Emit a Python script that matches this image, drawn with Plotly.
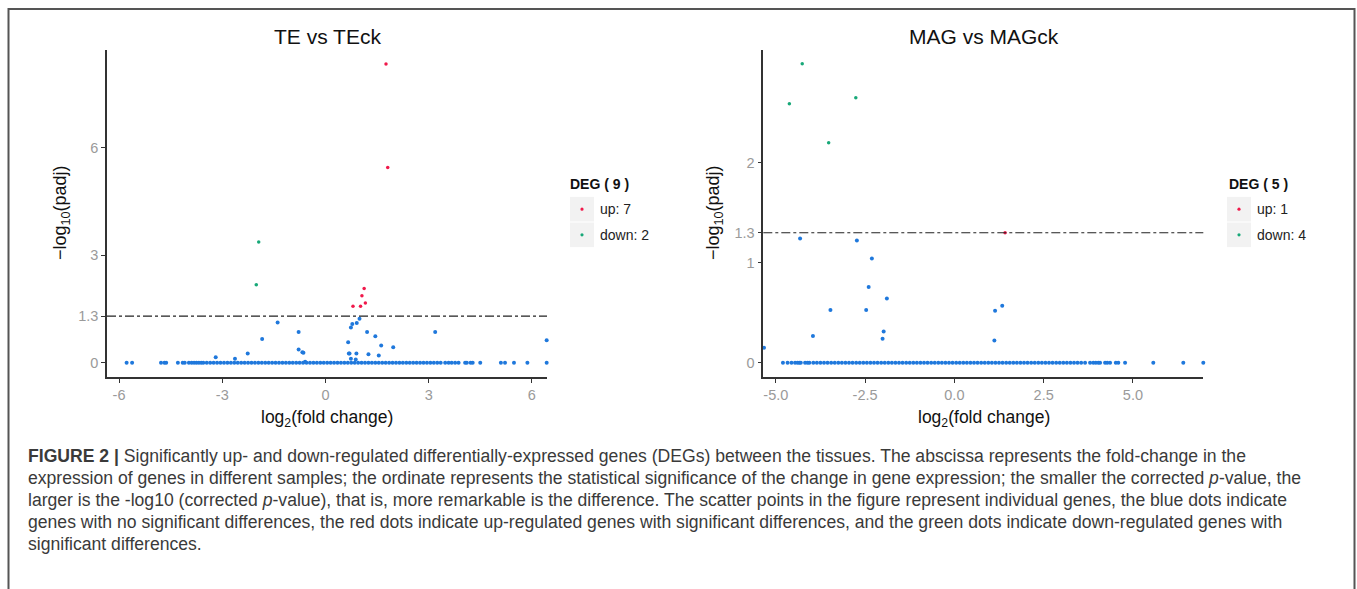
import plotly.graph_objects as go

W, H = 1357, 589

# ---------------- data: TE vs TEck ----------------
te_up_x = [1.76, 1.81, 1.125, 1.06, 1.16, 0.80, 1.02]
te_up_y = [8.34, 5.45, 2.07, 1.87, 1.67, 1.58, 1.58]
te_down_x = [-1.94, -2.01]
te_down_y = [3.37, 2.18]
te_ns_x = [-1.39, -0.78, -1.84, -2.26, -2.63, -3.19, -0.78, -0.67, -0.64, -0.59,
           0.99, 0.91, 0.78, 0.74, 1.21, 1.45, 0.66, 1.62, 1.97, 0.68,
           0.70, 0.90, 1.25, 1.55, 0.74, 0.88, 3.19, 6.43]
te_ns_y = [1.12, 0.86, 0.66, 0.26, 0.11, 0.15, 0.37, 0.29, 0.28, 0.03,
           1.23, 1.11, 1.08, 0.98, 0.86, 0.74, 0.57, 0.48, 0.43, 0.26,
           0.26, 0.26, 0.24, 0.20, 0.11, 0.09, 0.86, 0.63]
te_zero_x = [-6.36, -5.78, -5.62, -4.78, -4.68, -4.63, -4.29, -4.15, -4.09, -3.97,
             -3.89, -3.82, -3.75, -3.68, -3.61,
             -3.55, -3.45, -3.35, -3.25, -3.15, -3.05, -2.95, -2.85, -2.75, -2.65,
             -2.55, -2.45, -2.35, -2.25, -2.15, -2.05, -1.95, -1.85, -1.75, -1.65,
             -1.55, -1.45, -1.35, -1.25, -1.15, -1.05, -0.95, -0.85, -0.75, -0.65,
             -0.55, -0.45, -0.35, -0.25, -0.15, -0.05, 0.05, 0.15, 0.25, 0.35,
             0.45, 0.55, 0.65, 0.75, 0.85, 0.95, 1.05, 1.15, 1.25, 1.35,
             1.45, 1.55, 1.65, 1.75, 1.85, 1.95, 2.05, 2.15, 2.25, 2.35,
             2.45, 2.55, 2.65, 2.75, 2.85, 2.95, 3.05, 3.15, 3.25, 3.35, 3.48,
             3.58, 3.67, 3.77, 3.87, 4.06, 4.11, 4.22, 4.28, 4.50, 5.10,
             5.22, 5.48, 5.87, 6.43]

# ---------------- data: MAG vs MAGck ----------------
mag_up_x = [1.42]
mag_up_y = [1.30]
mag_down_x = [-4.26, -4.62, -2.76, -3.52]
mag_down_y = [2.99, 2.59, 2.65, 2.20]
mag_ns_x = [-4.32, -2.73, -2.31, -2.40, -1.89, -3.47, -2.47, -3.96, -1.98, -2.01,
            1.14, 1.34, 1.12, -5.33]
mag_ns_y = [1.243, 1.223, 1.043, 0.757, 0.643, 0.527, 0.527, 0.267, 0.313, 0.24,
            0.52, 0.57, 0.223, 0.15]
mag_zero_x = [-4.80, -4.67, -4.56, -4.46, -4.39, -4.34, -4.30, -4.18, -4.11, -4.06,
              -3.95, -3.85, -3.75, -3.65, -3.55, -3.45, -3.35, -3.25, -3.15, -3.05,
              -2.95, -2.85, -2.75, -2.65, -2.55, -2.45, -2.35, -2.25, -2.15, -2.05,
              -1.95, -1.85, -1.75, -1.65, -1.55, -1.45, -1.35, -1.25, -1.15, -1.05,
              -0.95, -0.85, -0.75, -0.65, -0.55, -0.45, -0.35, -0.25, -0.15, -0.05,
              0.05, 0.15, 0.25, 0.35, 0.45, 0.55, 0.65, 0.75, 0.85, 0.95,
              1.05, 1.15, 1.25, 1.35, 1.45, 1.55, 1.65, 1.75, 1.85, 1.95,
              2.05, 2.15, 2.25, 2.35, 2.45, 2.55, 2.65, 2.75, 2.85, 2.95,
              3.05, 3.15, 3.25, 3.35, 3.45, 3.55, 3.66,
              3.80, 3.89, 3.96, 4.03, 4.08, 4.22, 4.28, 4.36, 4.52, 4.59,
              4.78, 5.57, 6.41, 6.97]

threshold = 1.3
titles = ["TE vs TEck", "MAG vs MAGck"]
deg_titles = ["DEG ( 9 )", "DEG ( 5 )"]
deg_labels = [["up: 7", "down: 2"], ["up: 1", "down: 4"]]
te_xticks = [-6, -3, 0, 3, 6]
te_xticklabels = ["-6", "-3", "0", "3", "6"]
te_yticks = [0, 1.3, 3, 6]
te_yticklabels = ["0", "1.3", "3", "6"]
mag_xticks = [-5, -2.5, 0, 2.5, 5]
mag_xticklabels = ["-5.0", "-2.5", "0.0", "2.5", "5.0"]
mag_yticks = [0, 1, 1.3, 2]
mag_yticklabels = ["0", "1", "1.3", "2"]

caption_lines = [
    "<b>FIGURE 2 |</b> Significantly up- and down-regulated differentially-expressed genes (DEGs) between the tissues. The abscissa represents the fold-change in the",
    "expression of genes in different samples; the ordinate represents the statistical significance of the change in gene expression; the smaller the corrected <i>p</i>-value, the",
    "larger is the -log10 (corrected <i>p</i>-value), that is, more remarkable is the difference. The scatter points in the figure represent individual genes, the blue dots indicate",
    "genes with no significant differences, the red dots indicate up-regulated genes with significant differences, and the green dots indicate down-regulated genes with",
    "significant differences.",
]

# ---------------- styling ----------------
BLUE = "#1F78DC"
RED = "#F0194B"
GREEN = "#17A878"
FONT = "Liberation Sans"
TICKCOL = "#9a9a9a"
AXCOL = "#333333"


def px_x(p):
    return p / W


def px_y(p):
    return 1 - p / H


fig = go.Figure()

panels = [
    dict(xa="x", ya="y", zero=te_zero_x, ns=(te_ns_x, te_ns_y), up=(te_up_x, te_up_y),
         down=(te_down_x, te_down_y)),
    dict(xa="x2", ya="y2", zero=mag_zero_x, ns=(mag_ns_x, mag_ns_y), up=(mag_up_x, mag_up_y),
         down=(mag_down_x, mag_down_y)),
]

for p in panels:
    fig.add_trace(go.Scatter(x=p["zero"], y=[0] * len(p["zero"]), mode="markers",
                             marker=dict(color=BLUE, size=4, line=dict(width=0)),
                             xaxis=p["xa"], yaxis=p["ya"], showlegend=False, cliponaxis=False))
    fig.add_trace(go.Scatter(x=p["ns"][0], y=p["ns"][1], mode="markers",
                             marker=dict(color=BLUE, size=4, line=dict(width=0)),
                             xaxis=p["xa"], yaxis=p["ya"], showlegend=False, cliponaxis=False))
    fig.add_trace(go.Scatter(x=p["up"][0], y=p["up"][1], mode="markers",
                             marker=dict(color=RED, size=3.5, line=dict(width=0)),
                             xaxis=p["xa"], yaxis=p["ya"], showlegend=False, cliponaxis=False))
    fig.add_trace(go.Scatter(x=p["down"][0], y=p["down"][1], mode="markers",
                             marker=dict(color=GREEN, size=3.5, line=dict(width=0)),
                             xaxis=p["xa"], yaxis=p["ya"], showlegend=False, cliponaxis=False))

ydom = [px_y(376.7), px_y(50)]
axis_common = dict(showgrid=False, zeroline=False, showline=True, linecolor=AXCOL, linewidth=1.6,
                   ticks="outside", ticklen=4, tickwidth=1, tickcolor=AXCOL,
                   tickfont=dict(family=FONT, size=14.5, color=TICKCOL))

fig.update_layout(
    xaxis=dict(domain=[px_x(107), px_x(547)], range=[-6.35, 6.44], anchor="y",
               tickvals=te_xticks, ticktext=te_xticklabels, **axis_common),
    yaxis=dict(domain=ydom, range=[-0.39, 8.73], anchor="x",
               tickvals=te_yticks, ticktext=te_yticklabels, **axis_common),
    xaxis2=dict(domain=[px_x(763.3), px_x(1203.3)], range=[-5.35, 6.97], anchor="y2",
                tickvals=mag_xticks, ticktext=mag_xticklabels, **axis_common),
    yaxis2=dict(domain=ydom, range=[-0.14, 3.127], anchor="x2",
                tickvals=mag_yticks, ticktext=mag_yticklabels, **axis_common),
)

shapes = []
# threshold lines
for xa, ya in [("x", "y"), ("x2", "y2")]:
    shapes.append(dict(type="line", xref=f"{xa} domain", yref=ya, x0=0, x1=1,
                       y0=threshold, y1=threshold,
                       line=dict(color="#222222", width=1.1, dash="dashdot")))

annotations = []
# titles
for cx, t in [(327, titles[0]), (983.7, titles[1])]:
    annotations.append(dict(text=t, x=px_x(cx), y=px_y(36), xref="paper", yref="paper",
                            showarrow=False, xanchor="center", yanchor="middle",
                            font=dict(family=FONT, size=21, color="#111111")))
# axis titles
for cx in [327, 983.7]:
    annotations.append(dict(text="log<sub>2</sub>(fold change)", x=px_x(cx), y=px_y(405),
                            xref="paper", yref="paper", showarrow=False,
                            xanchor="center", yanchor="top",
                            font=dict(family=FONT, size=17.5, color="#111111")))
for cx in [62, 715]:
    annotations.append(dict(text="\u2212log<sub>10</sub>(padj)", x=px_x(cx), y=px_y(213),
                            xref="paper", yref="paper", showarrow=False, textangle=-90,
                            xanchor="center", yanchor="middle",
                            font=dict(family=FONT, size=18, color="#111111")))

# legends (manual, ggplot style)
legend_pos = [(568, 570, 598), (1227, 1227, 1255)]
for i, (tx, bx, lx) in enumerate(legend_pos):
    annotations.append(dict(text=f"<b>{deg_titles[i]}</b>", x=px_x(tx), y=px_y(184),
                            xref="paper", yref="paper", showarrow=False,
                            xanchor="left", yanchor="middle",
                            font=dict(family=FONT, size=14, color="#111111")))
    for j, (col, yc) in enumerate([(RED, 209.2), (GREEN, 234.8)]):
        shapes.append(dict(type="rect", xref="paper", yref="paper",
                           x0=px_x(bx), x1=px_x(bx + 24), y0=px_y(yc - 12.3), y1=px_y(yc + 12.3),
                           fillcolor="#f2f2f2", line=dict(width=0), layer="below"))
        r = 1.6
        cxp = bx + 12
        shapes.append(dict(type="circle", xref="paper", yref="paper",
                           x0=px_x(cxp - r), x1=px_x(cxp + r), y0=px_y(yc - r), y1=px_y(yc + r),
                           fillcolor=col, line=dict(width=0)))
        annotations.append(dict(text=deg_labels[i][j], x=px_x(lx), y=px_y(yc),
                                xref="paper", yref="paper", showarrow=False,
                                xanchor="left", yanchor="middle",
                                font=dict(family=FONT, size=14, color="#222222")))

# caption
for k, line in enumerate(caption_lines):
    annotations.append(dict(text=line, x=px_x(26), y=px_y(456 + 22 * k), xref="paper", yref="paper",
                            showarrow=False, xanchor="left", yanchor="middle", align="left",
                            font=dict(family=FONT, size=17.6, color="#3a3a3a")))

# outer frame
shapes.append(dict(type="rect", xref="paper", yref="paper", x0=px_x(8.5), x1=px_x(1354.5),
                   y0=px_y(620), y1=px_y(9), line=dict(color="#555555", width=2),
                   fillcolor="rgba(0,0,0,0)"))

fig.update_layout(
    width=W, height=H, margin=dict(l=0, r=0, t=0, b=0),
    paper_bgcolor="white", plot_bgcolor="white",
    shapes=shapes, annotations=annotations, showlegend=False,
)

fig.write_html("out.html", config={"displayModeBar": False},
               post_script="document.body.style.margin='0px';document.body.style.overflow='hidden';")
